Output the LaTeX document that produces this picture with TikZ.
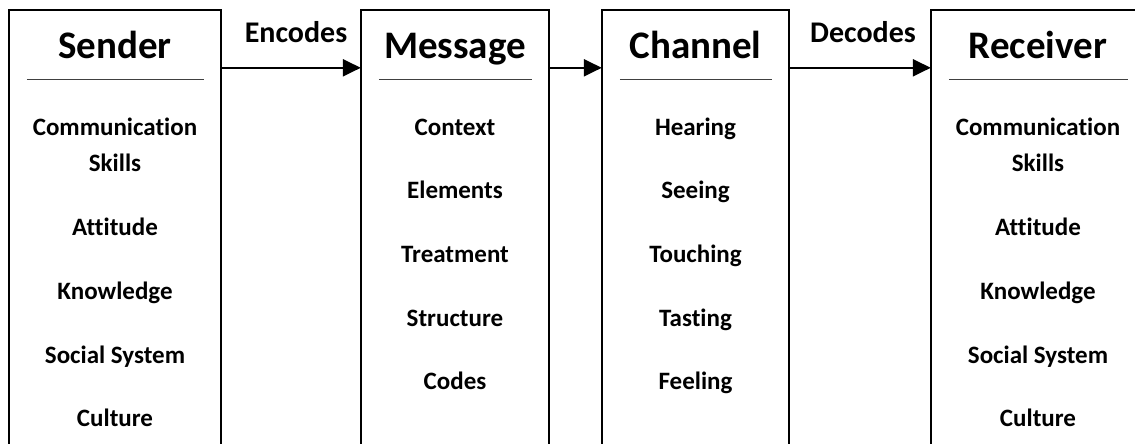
\documentclass[tikz,border=0pt]{standalone}
\usepackage{fontspec}
\setmainfont{Carlito}[Ligatures=NoCommon]
\usetikzlibrary{arrows.meta}

\tikzstyle{base}=[rectangle,
                    inner sep=0pt,
                    minimum height=436pt]
\tikzstyle{title}=[anchor=base, font=\fontsize{39pt}{44pt}\selectfont\bfseries]
\tikzstyle{item}=[anchor=base, font=\fontsize{25pt}{30pt}\selectfont\bfseries]
\tikzstyle{verb}=[anchor=base, font=\fontsize{30pt}{34pt}\selectfont\bfseries]
\tikzstyle{frame}=[line width=1.5pt]
\tikzstyle{rule}=[line width=0.8pt, black!75]
\tikzstyle{flow}=[line width=2.2pt, -{Triangle[length=18pt,width=17pt]}]

\begin{document}
\begin{tikzpicture}[x=1pt, y=-1pt]
    \useasboundingbox (0,0) rectangle (1135,444);

    % open boxes
    \node at (115.0, 228) (sender)   [base, minimum width=212pt] {};
    \node at (455.0, 228) (message)  [base, minimum width=188pt] {};
    \node at (695.5, 228) (channel)  [base, minimum width=187pt] {};
    \node at (1038., 228) (receiver) [base, minimum width=214pt] {};

    \foreach \b in {sender, message, channel, receiver}{
        \draw[frame] (\b.south west) -- (\b.north west) -- (\b.north east) -- (\b.south east);
        \draw[rule]  ([xshift=18pt, yshift=-70pt]\b.north west) -- ([xshift=-17pt, yshift=-70pt]\b.north east);
    }

    % titles
    \node at (115.0, 58.5) (sender_title)   [title] {Sender};
    \node at (455.0, 58.5) (message_title)  [title] {Message};
    \node at (695.5, 58.5) (channel_title)  [title] {Channel};
    \node at (1038., 58.5) (receiver_title) [title] {Receiver};

    % sender
    \node at (115,  135) (s_comm)      [item] {Communication};
    \node at (115,  171) (s_skills)    [item] {Skills};
    \node at (115,  235) (s_attitude)  [item] {Attitude};
    \node at (115,  299) (s_knowledge) [item] {Knowledge};
    \node at (115,  363) (s_social)    [item] {Social System};
    \node at (115,  426) (s_culture)   [item] {Culture};

    % message
    \node at (455,  135) (m_context)   [item] {Context};
    \node at (455,  198) (m_elements)  [item] {Elements};
    \node at (455,  262) (m_treatment) [item] {Treatment};
    \node at (455,  326) (m_structure) [item] {Structure};
    \node at (455,  389) (m_codes)     [item] {Codes};

    % channel
    \node at (695.5, 135) (c_hearing)  [item] {Hearing};
    \node at (695.5, 198) (c_seeing)   [item] {Seeing};
    \node at (695.5, 262) (c_touching) [item] {Touching};
    \node at (695.5, 326) (c_tasting)  [item] {Tasting};
    \node at (695.5, 389) (c_feeling)  [item] {Feeling};

    % receiver
    \node at (1038, 135) (r_comm)      [item] {Communication};
    \node at (1038, 171) (r_skills)    [item] {Skills};
    \node at (1038, 235) (r_attitude)  [item] {Attitude};
    \node at (1038, 299) (r_knowledge) [item] {Knowledge};
    \node at (1038, 363) (r_social)    [item] {Social System};
    \node at (1038, 426) (r_culture)   [item] {Culture};

    % flow between boxes
    \node at (296, 43) (encodes) [verb] {Encodes};
    \node at (863, 43) (decodes) [verb] {Decodes};

    \draw[flow] ([yshift=-58pt]sender.north east)  -- ([yshift=-58pt]message.north west);
    \draw[flow] ([yshift=-58pt]message.north east) -- ([yshift=-58pt]channel.north west);
    \draw[flow] ([yshift=-58pt]channel.north east) -- ([yshift=-58pt]receiver.north west);
\end{tikzpicture}
\end{document}
